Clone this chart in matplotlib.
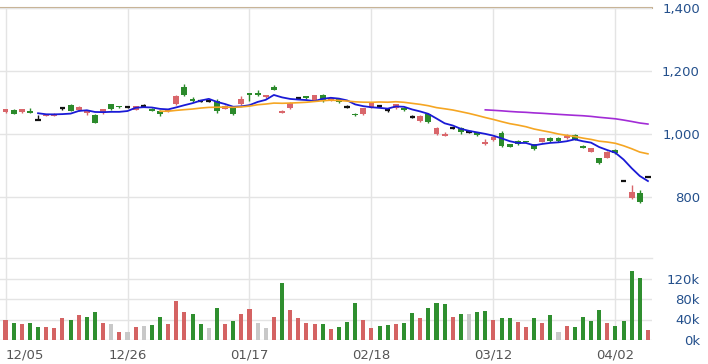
import numpy as np
import pandas as pd
import matplotlib
matplotlib.use('Agg')
import matplotlib.pyplot as plt

plt.rcParams['font.family'] = ['DejaVu Sans']

# daily prices
opens = [1070, 1077, 1070, 1073, 1043, 1057, 1058, 1082, 1091, 1076,
         1066, 1061, 1066, 1095, 1088, 1085, 1076, 1088, 1080, 1074,
         1072, 1095, 1148, 1110, 1104, 1104, 1106, 1080, 1085, 1095,
         1130, 1130, 1116, 1148, 1066, 1082, 1113, 1120, 1106, 1125,
         1108, 1112, 1087, 1064, 1062, 1083, 1090, 1075, 1081, 1081,
         1055, 1041, 1062, 999, 995, 1020, 1020, 1005, 1005, 967,
         981, 1002, 967, 978, 978, 967, 976, 988, 988, 986,
         997, 963, 944, 923, 925, 949, 849, 796, 812, 864]
highs = [1080, 1078, 1080, 1082, 1061, 1063, 1065, 1082, 1095, 1088,
         1073, 1064, 1080, 1096, 1089, 1087, 1090, 1095, 1082, 1075,
         1079, 1125, 1160, 1118, 1106, 1106, 1110, 1091, 1087, 1120,
         1131, 1138, 1125, 1155, 1076, 1100, 1116, 1121, 1124, 1126,
         1116, 1114, 1092, 1066, 1083, 1099, 1093, 1081, 1096, 1083,
         1060, 1060, 1064, 1021, 1006, 1022, 1022, 1009, 1007, 985,
         993, 1008, 968, 980, 979, 969, 988, 990, 990, 1000,
         999, 965, 956, 925, 946, 952, 849, 838, 822, 864]
lows = [1068, 1062, 1068, 1065, 1043, 1056, 1057, 1076, 1073, 1073,
        1061, 1035, 1064, 1076, 1083, 1083, 1075, 1085, 1073, 1058,
        1070, 1093, 1121, 1100, 1100, 1100, 1068, 1078, 1061, 1092,
        1105, 1122, 1114, 1139, 1065, 1080, 1110, 1110, 1105, 1100,
        1106, 1098, 1082, 1057, 1060, 1081, 1086, 1071, 1079, 1073,
        1050, 1039, 1035, 997, 994, 1015, 1000, 1002, 994, 966,
        979, 960, 957, 966, 974, 950, 974, 975, 975, 985,
        980, 954, 942, 905, 923, 937, 849, 794, 781, 864]
closes = [1078, 1064, 1078, 1066, 1043, 1061, 1063, 1082, 1074, 1085,
          1072, 1036, 1079, 1079, 1085, 1085, 1088, 1088, 1074, 1063,
          1077, 1120, 1123, 1106, 1104, 1104, 1072, 1089, 1063, 1110,
          1123, 1123, 1123, 1140, 1072, 1098, 1113, 1115, 1123, 1109,
          1114, 1100, 1087, 1059, 1081, 1097, 1090, 1075, 1094, 1075,
          1055, 1058, 1037, 1020, 999, 1020, 1005, 1005, 996, 975,
          991, 963, 960, 968, 975, 952, 986, 977, 977, 992,
          982, 956, 955, 907, 944, 939, 849, 817, 783, 864]
prev_close_first = 1070
volumes_k = [40, 34, 31, 33, 26, 25, 23, 43, 40, 48,
             45, 55, 34, 31, 16, 16, 26, 28, 29, 45,
             31, 77, 55, 51, 31, 23, 62, 31, 38, 51,
             60, 34, 23, 45, 111, 58, 43, 33, 31, 31,
             21, 26, 35, 73, 39, 24, 28, 30, 31, 34,
             53, 43, 63, 72, 70, 45, 50, 50, 55, 57,
             39, 43, 43, 35, 26, 43, 34, 48, 16, 28,
             26, 45, 37, 59, 34, 28, 38, 134, 121, 19]

date_pos = [0, 15, 30, 45, 60, 75]
date_labels = ['12/05', '12/26', '01/17', '02/18', '03/12', '04/02']
price_ticks = [800, 1000, 1200, 1400]
vol_ticks = [0, 40, 80, 120]

RED = '#d9666b'
GREEN = '#2b8a2b'
GRID = '#e4e4e4'
LABEL = '#24508c'

o = np.array(opens, float)
h = np.array(highs, float)
l = np.array(lows, float)
c = np.array(closes, float)
x = np.arange(len(c))

fig = plt.figure(figsize=(7.08, 3.64), dpi=100)
ax = fig.add_axes([0, 106 / 364, 652 / 708, 250 / 364])
axv = fig.add_axes([0, 24 / 364, 652 / 708, 82 / 364], sharex=ax)

# candles
up = c > o
dn = c < o
flat = c == o
wick_col = np.where(up, RED, np.where(dn, GREEN, '#111111'))
ax.vlines(x, l, h, colors=wick_col, lw=1, zorder=2)
body_lo = np.minimum(o, c)
body_h = np.maximum(np.abs(c - o), 2.5)
ax.bar(x[up], body_h[up], bottom=body_lo[up], width=0.72, color=RED, lw=0, zorder=3)
ax.bar(x[dn], body_h[dn], bottom=body_lo[dn], width=0.72, color=GREEN, lw=0, zorder=3)
ax.hlines(c[flat], x[flat] - 0.32, x[flat] + 0.32, colors='#111111', lw=1.6, zorder=3)

# moving averages
s = pd.Series(c)
ax.plot(x, s.rolling(5).mean(), color='#1a1ad6', lw=1.3, zorder=4)
ax.plot(x, s.rolling(20).mean(), color='#f5a623', lw=1.2, zorder=4)
ax.plot(x, s.rolling(60).mean(), color='#a22cd6', lw=1.2, zorder=4)

ax.set_xlim(-0.68, 79.5)
ax.set_ylim(606, 1400)
ax.set_yticks(price_ticks)
ax.set_yticklabels([f'{t:,}' for t in price_ticks])
ax.set_xticks(date_pos)
ax.grid(True, color=GRID, lw=1, zorder=0)
ax.axhline(1400, color='#c8b497', lw=1.5, clip_on=False, zorder=1)
ax.tick_params(axis='x', length=0, labelbottom=False)

# volume
diff = np.diff(c, prepend=prev_close_first)
vcol = np.where(diff > 0, '#d46363', np.where(diff < 0, '#2f8f2f', '#c8c8c8'))
axv.bar(x, volumes_k, width=0.5, color=vcol, lw=0, zorder=3)
axv.set_ylim(0, 160)
axv.set_yticks(vol_ticks)
axv.set_yticklabels([f'{t}k' for t in vol_ticks])
axv.grid(True, color=GRID, lw=1, zorder=0)
axv.axhline(160, color=GRID, lw=1, clip_on=False, zorder=0)
axv.set_xticks(date_pos)
axv.set_xticklabels(date_labels)
axv.tick_params(axis='x', length=0, pad=6, labelsize=9.5, labelcolor='#555555')
axv.get_xticklabels()[0].set_ha('left')

for a in (ax, axv):
    for sp in a.spines.values():
        sp.set_visible(False)
    a.yaxis.tick_right()
    a.tick_params(axis='y', length=0, pad=34.5, labelsize=9.5, labelcolor=LABEL)
    for lab in a.get_yticklabels():
        lab.set_ha('right')

fig.savefig('out.png', dpi=100)
